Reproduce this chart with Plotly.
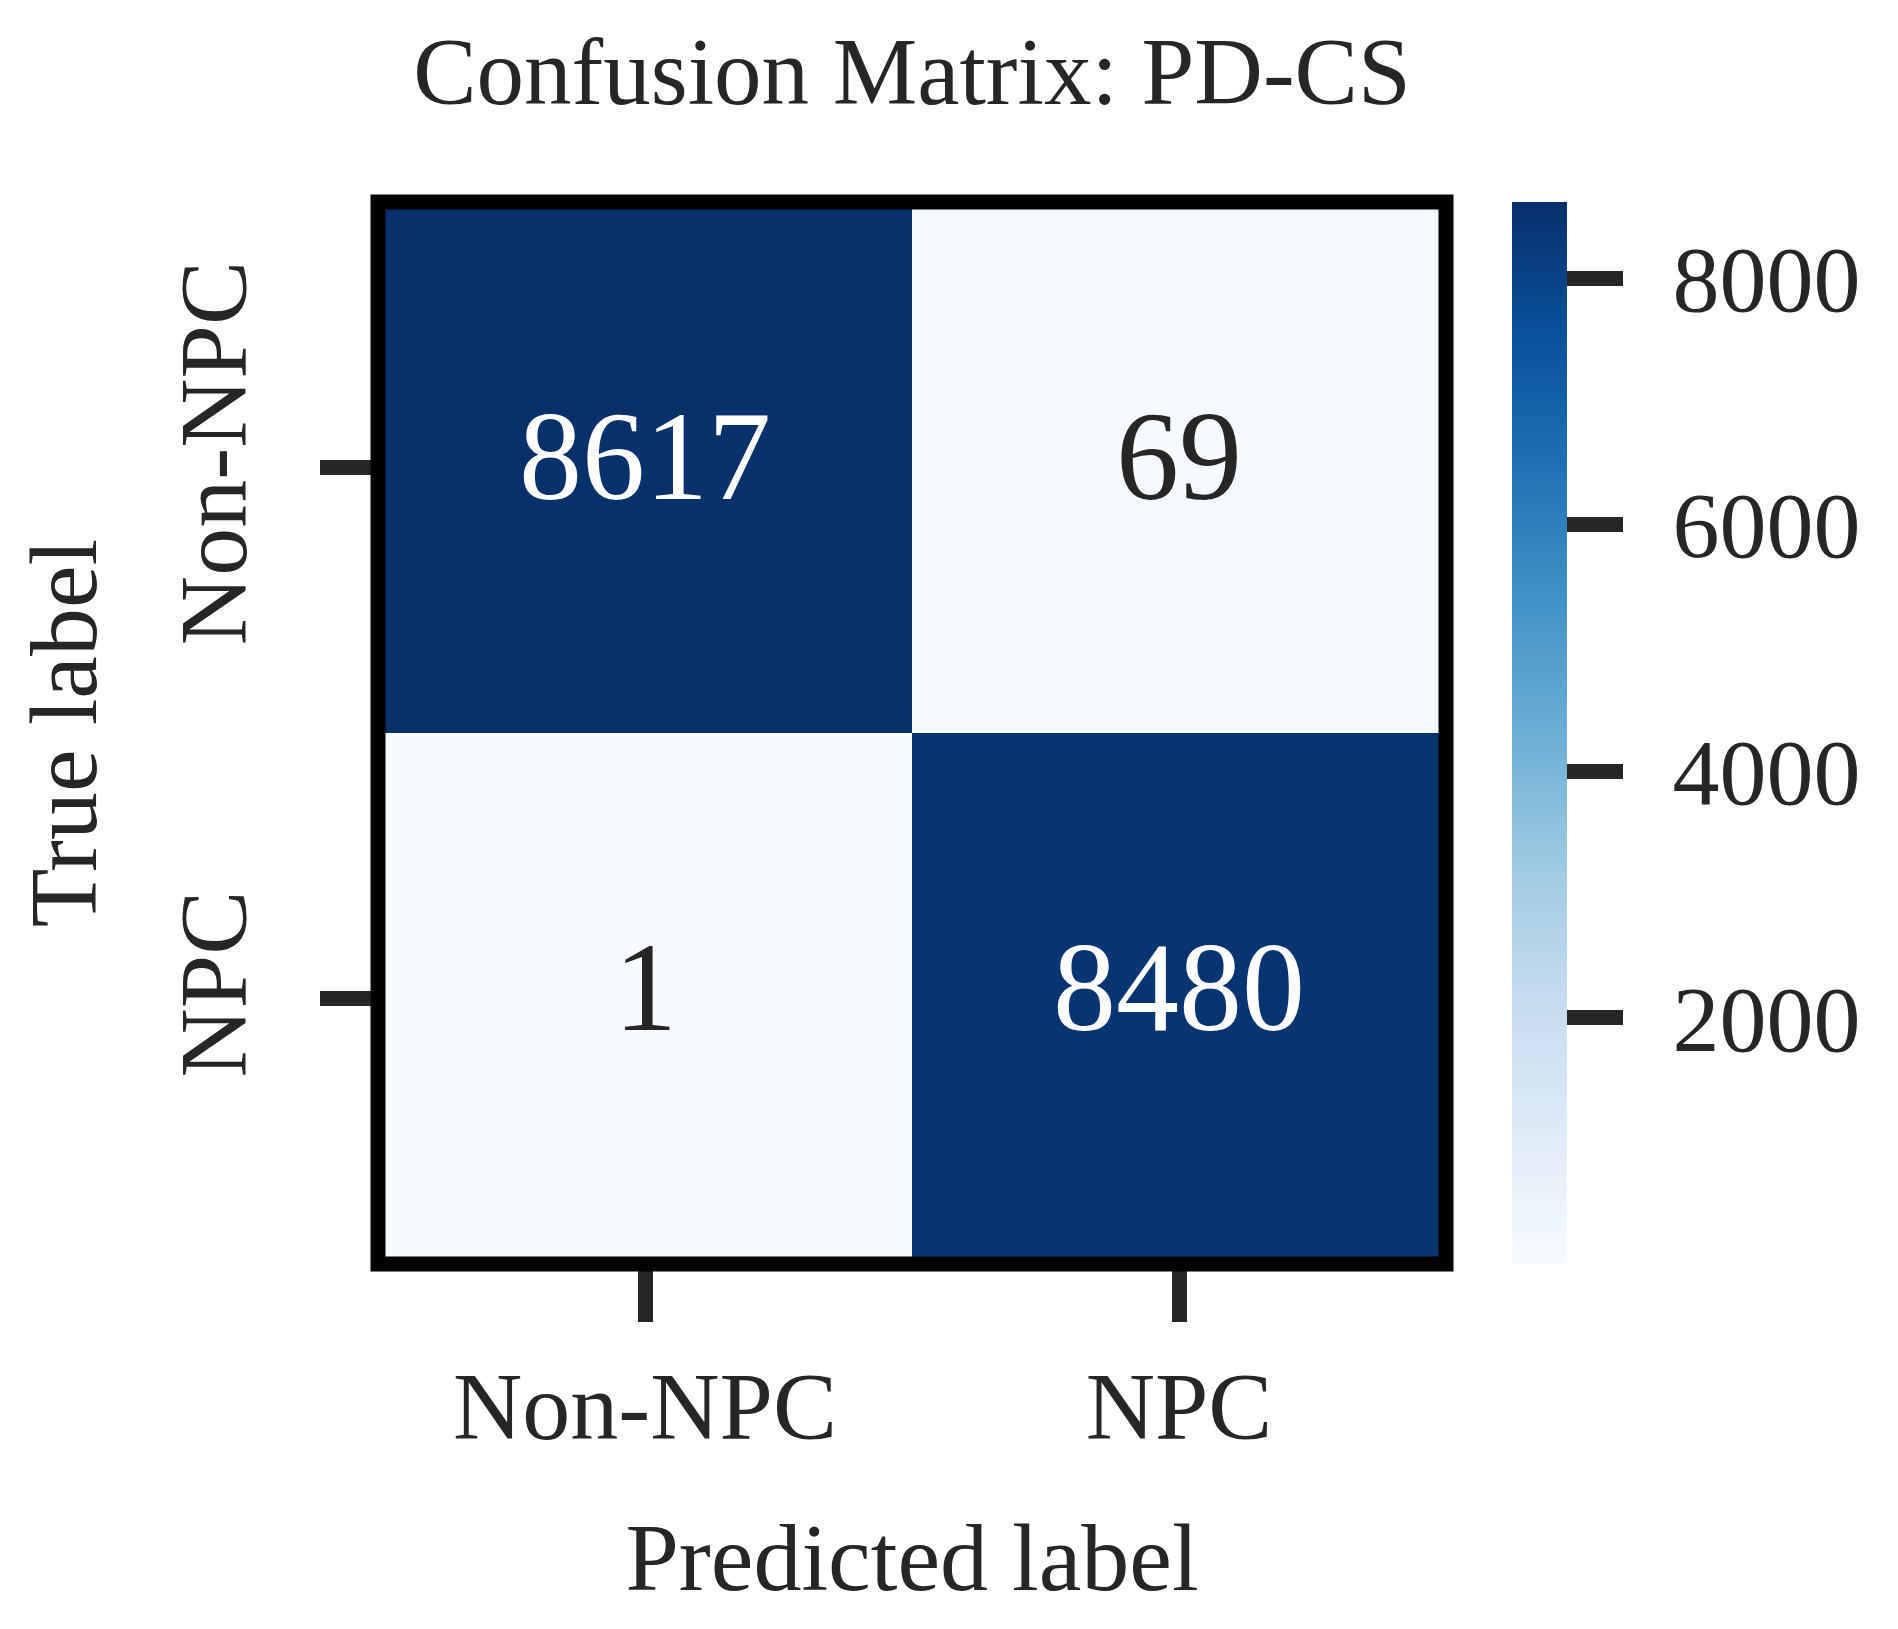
import plotly.graph_objects as go

# confusion matrix data
labels = ["Non-NPC", "NPC"]
counts = [[8617, 69],
          [1, 8480]]
cbar_ticks = [2000, 4000, 6000, 8000]

# matplotlib "Blues"
blues = ["#f7fbff", "#deebf7", "#c6dbef", "#9ecae1", "#6baed6",
         "#4292c6", "#2171b5", "#08519c", "#08306b"]
colorscale = [[i / (len(blues) - 1), c] for i, c in enumerate(blues)]

FONT = "Liberation Serif"
INK = "#262626"

zmin = min(min(r) for r in counts)
zmax = max(max(r) for r in counts)

# invisible spacer pushes the colorbar labels away from the ticks
spacer = '<span style="color:rgba(0,0,0,0)">-</span>'
cbar_text = [spacer + str(v) for v in cbar_ticks]

fig = go.Figure()

fig.add_trace(go.Heatmap(
    z=counts,
    x=labels,
    y=labels,
    colorscale=colorscale,
    zmin=zmin,
    zmax=zmax,
    hovertemplate='True: %{y}<br>Predicted: %{x}<br>Count: %{z}<extra></extra>',
    colorbar=dict(
        x=1.0618,
        xanchor='left',
        xpad=0,
        y=0.5,
        yanchor='middle',
        len=1.0,
        ypad=0,
        thickness=55,
        outlinewidth=0,
        tickmode='array',
        tickvals=cbar_ticks,
        ticktext=cbar_text,
        ticks='outside',
        ticklen=56,
        tickwidth=15,
        tickcolor=INK,
        tickfont=dict(family=FONT, size=94, color=INK),
    ),
))

# cell annotations
mid = (zmin + zmax) / 2
for i, row_label in enumerate(labels):
    for j, col_label in enumerate(labels):
        v = counts[i][j]
        fig.add_annotation(
            x=col_label,
            y=row_label,
            text=str(v),
            showarrow=False,
            yshift=11,
            font=dict(family=FONT, size=126, color='white' if v > mid else INK),
        )

# thick frame around the matrix
fig.add_shape(
    type='rect', xref='paper', yref='paper',
    x0=0, x1=1, y0=0, y1=1,
    line=dict(color='black', width=15),
    layer='above',
)

fig.update_layout(
    width=1898,
    height=1629,
    margin=dict(l=370, r=460, t=194, b=373),
    paper_bgcolor='white',
    plot_bgcolor='white',
    font=dict(family=FONT, color=INK),
    title=dict(
        text="Confusion Matrix: PD-CS",
        x=0.5,
        xref='paper',
        xanchor='center',
        y=1 - 63 / 1629,
        yref='container',
        yanchor='middle',
        font=dict(family=FONT, size=95, color=INK),
    ),
    xaxis=dict(
        title=dict(text="Predicted label", font=dict(family=FONT, size=96, color=INK), standoff=63),
        tickfont=dict(family=FONT, size=96, color=INK),
        ticklabelstandoff=2,
        ticks='outside',
        ticklen=57,
        tickwidth=15,
        tickcolor=INK,
        showgrid=False,
        zeroline=False,
        showline=False,
    ),
    yaxis=dict(
        title=dict(text="True label", font=dict(family=FONT, size=96, color=INK), standoff=30),
        tickfont=dict(family=FONT, size=96, color=INK),
        tickangle=-90,
        ticklabelstandoff=36,
        autorange='reversed',
        ticks='outside',
        ticklen=57,
        tickwidth=15,
        tickcolor=INK,
        showgrid=False,
        zeroline=False,
        showline=False,
    ),
)

fig.write_html("out.html")
